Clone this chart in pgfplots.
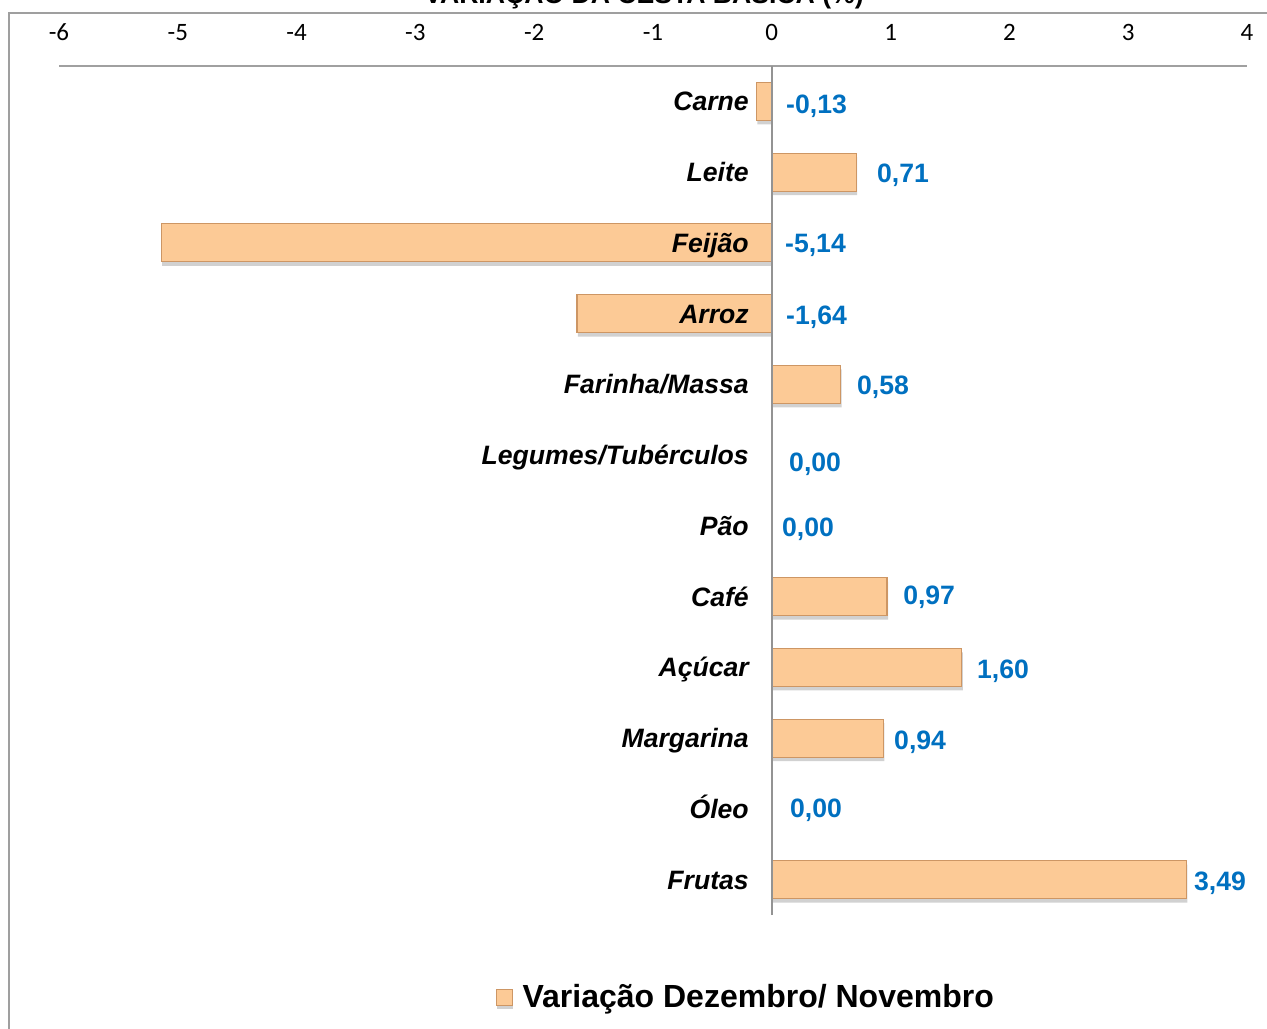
\documentclass[border=0pt]{standalone}
\usepackage{pgfplots}
\pgfplotsset{compat=1.18}
\usepackage{pgfplotstable}
\usepackage{fontspec}
\setmainfont{Liberation Sans}
\newfontfamily\tickfont{Carlito}
\definecolor{barfill}{RGB}{252,202,150}
\definecolor{baredge}{RGB}{205,150,100}
\definecolor{vallabel}{RGB}{0,112,192}
\definecolor{axgray}{RGB}{160,160,160}

\pgfplotstableread{
y val
12 -0.13
11 0.71
10 -5.14
9 -1.64
8 0.58
7 0.00
6 0.00
5 0.97
4 1.60
3 0.94
2 0.00
1 3.49
}\bardata

\pgfplotstableread{
lx ly lab
0.135 11.963 -0,13
0.900 10.988 0,71
0.126 9.998 -5,14
0.135 8.981 -1,64
0.732 7.991 0,58
0.160 6.903 0,00
0.101 5.984 0,00
1.120 5.023 0,97
1.742 3.977 1,60
1.044 2.973 0,94
0.168 2.012 0,00
3.569 0.981 3,49
}\labdata

\begin{document}
\begin{tikzpicture}
\useasboundingbox (0,0) rectangle (633.5pt,514pt);
\draw[gray!75, line width=1pt] (4.5pt,-5pt) rectangle (640pt,507.5pt);
\node[anchor=base, font=\fontsize{13.3}{16}\selectfont\bfseries] at (322pt,512pt) {VARIAÇÃO DA CESTA BÁSICA (\%)};
\begin{axis}[
  at={(29.5pt,56.5pt)}, anchor=south west,
  scale only axis, width=594pt, height=424.5pt,
  xmin=-6, xmax=4, ymin=0.5, ymax=12.5,
  axis x line*=top, axis y line*=middle,
  hide obscured x ticks=false,
  x axis line style={axgray, line width=1pt},
  y axis line style={gray!85, line width=0.7pt},
  xtick={-6,-5,...,4},
  major tick length=0pt,
  xticklabel shift=9pt,
  /pgf/number format/assume math mode=true,
  xticklabel style={font=\tickfont\fontsize{12.5}{14}\selectfont},
  ytick={1,...,12},
  yticklabels={Frutas,Óleo,Margarina,Açúcar,Café,Pão,Legumes/Tubérculos,Farinha/Massa,Arroz,Feijão,Leite,Carne},
  yticklabel style={font=\fontsize{13.3}{16}\selectfont\bfseries\itshape, anchor=base east, xshift=-8pt, yshift=-4.7pt},
  axis on top,
  clip=false,
  legend style={at={(rel axis cs:0.579,-0.0965)}, anchor=center, draw=none, fill=none,
    font=\fontsize{16}{19}\selectfont\bfseries, inner sep=0pt, column sep=3pt},
  legend image code/.code={\draw[fill=barfill, draw=baredge, line width=0.4pt] (0pt,-4pt) rectangle (8pt,4pt);},
]
\addplot[xbar, bar width=19pt, bar shift=0pt, fill=barfill, draw=baredge, line width=0.6pt,
  preaction={fill=black, fill opacity=0.18, draw=none, transform canvas={yshift=-2pt, xshift=0.5pt}}]
  table[x=val, y=y] {\bardata};
\addlegendentry{Variação Dezembro/ Novembro}
\addplot[only marks, mark=none, forget plot,
  point meta=explicit symbolic,
  nodes near coords,
  every node near coord/.style={anchor=west, inner sep=0pt, text=vallabel, xshift=-1pt, yshift=-1pt,
    font=\fontsize{13.3}{16}\selectfont\bfseries}]
  table[x=lx, y=ly, meta=lab] {\labdata};
\end{axis}
\end{tikzpicture}
\end{document}
